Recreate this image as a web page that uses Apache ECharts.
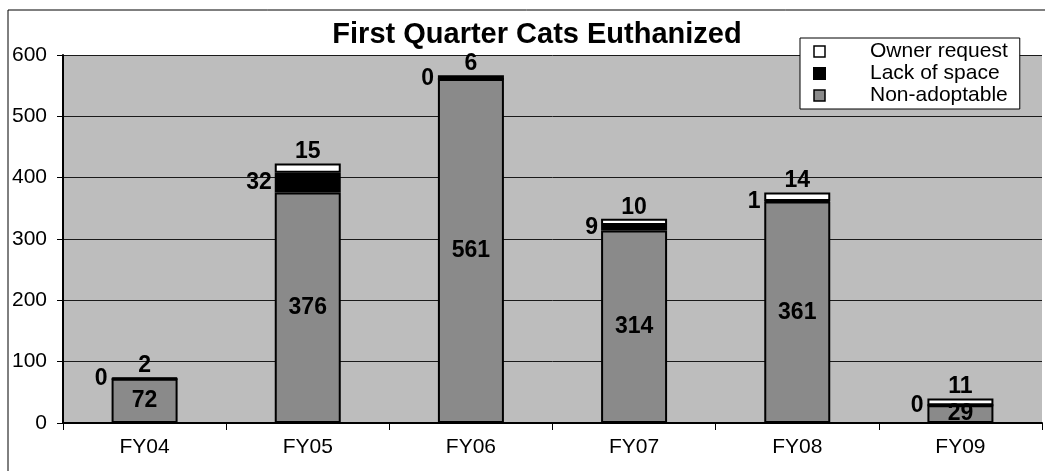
<!DOCTYPE html>
<html>
<head>
<meta charset="utf-8">
<script src="https://cdn.jsdelivr.net/npm/echarts@6/dist/echarts.min.js"></script>
<style>
  html, body { margin: 0; padding: 0; background: #fff; }
  #chart { width: 1045px; height: 471px; }
</style>
</head>
<body>
<div id="chart"></div>
<script>
const years = ['FY04', 'FY05', 'FY06', 'FY07', 'FY08', 'FY09'];
const nonAdoptable = [72, 376, 561, 314, 361, 29];
const lackOfSpace = [0, 32, 0, 9, 1, 0];
const ownerRequest = [2, 15, 6, 10, 14, 11];
const yTicks = [0, 100, 200, 300, 400, 500, 600];

const chart = echarts.init(document.getElementById('chart'));

const labelFont = {
    fontFamily: 'Liberation Sans, Arial, sans-serif',
    fontWeight: 'bold',
    fontSize: 23,
    color: '#000'
};

const option = {
    animation: false,
    textStyle: { fontFamily: 'Liberation Sans, Arial, sans-serif' },
    title: {
        text: 'First Quarter Cats Euthanized',
        left: 532,
        textAlign: 'center',
        top: 15,
        textStyle: { fontSize: 29, fontWeight: 'bold', color: '#000' }
    },
    legend: {
        orient: 'vertical',
        left: 800,
        top: 38,
        backgroundColor: '#fff',
        borderColor: '#000',
        borderWidth: 1,
        padding: [3, 12, 3, 13],
        itemGap: 1,
        itemWidth: 11,
        itemHeight: 11,
        icon: 'rect',
        textStyle: { fontSize: 21, color: '#000', padding: [0, 0, 0, 40] },
        data: [
            { name: 'Owner request', itemStyle: { borderWidth: 1.5 } },
            { name: 'Lack of space' },
            { name: 'Non-adoptable', itemStyle: { borderWidth: 1.5 } }
        ]
    },
    grid: { left: 63, right: 3, top: 55, bottom: 48 },
    xAxis: {
        type: 'category',
        data: years,
        axisLine: { lineStyle: { color: '#000', width: 2 } },
        axisTick: { show: true, length: 7, lineStyle: { color: '#000' } },
        axisLabel: { fontSize: 21, color: '#000', margin: 14 },
        splitLine: { show: false }
    },
    yAxis: {
        type: 'value',
        min: yTicks[0],
        max: yTicks[yTicks.length - 1],
        interval: 100,
        axisLine: { show: true, lineStyle: { color: '#000', width: 2 } },
        axisTick: { show: true, length: 6, lineStyle: { color: '#000' } },
        axisLabel: { fontSize: 21, color: '#000', margin: 16 },
        splitLine: { show: true, lineStyle: { color: '#1a1a1a', width: 1 } },
        splitArea: { show: true, areaStyle: { color: ['#bdbdbd', '#bdbdbd'] } }
    },
    series: [
        {
            name: 'Non-adoptable',
            type: 'bar',
            stack: 'cats',
            barWidth: 66,
            data: nonAdoptable,
            itemStyle: { color: '#8a8a8a', borderColor: '#000', borderWidth: 2 },
            label: Object.assign({ show: true, position: 'inside' }, labelFont)
        },
        {
            name: 'Lack of space',
            type: 'bar',
            stack: 'cats',
            data: lackOfSpace,
            itemStyle: { color: '#000', borderColor: '#000', borderWidth: 2 },
            label: Object.assign({ show: true, position: 'left', distance: 3 }, labelFont)
        },
        {
            name: 'Owner request',
            type: 'bar',
            stack: 'cats',
            data: ownerRequest,
            itemStyle: { color: '#fff', borderColor: '#000', borderWidth: 2 },
            label: Object.assign({ show: true, position: 'top', distance: 0 }, labelFont)
        }
    ],
    graphic: [
        {
            type: 'polyline',
            shape: { points: [[8, 471], [8, 10], [1045, 10]] },
            style: { stroke: '#000', lineWidth: 1, fill: null }
        }
    ]
};

chart.setOption(option);
</script>
</body>
</html>
